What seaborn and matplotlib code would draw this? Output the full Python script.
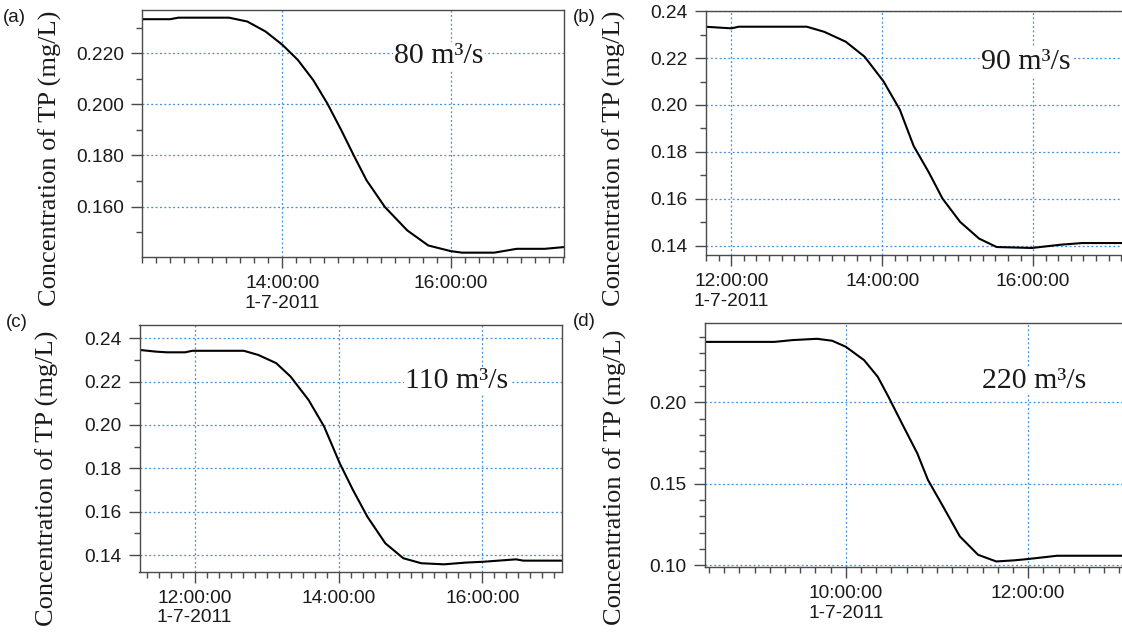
import numpy as np
import pandas as pd
import matplotlib
matplotlib.use("Agg")
import matplotlib.pyplot as plt
import matplotlib.dates as mdates
from matplotlib.ticker import MultipleLocator, FormatStrFormatter
import seaborn as sns

# data (time of day on 1-7-2011, TP in mg/L)
a_time = ["12:20", "12:40", "12:46", "13:22", "13:35", "13:48", "14:00", "14:11", "14:22", "14:32", "14:42",
          "14:51", "15:00", "15:13", "15:29", "15:44", "16:00", "16:08", "16:31", "16:47", "17:07", "17:21"]
a_tp = [0.2333, 0.2333, 0.2339, 0.2339, 0.2324, 0.2285, 0.2233, 0.2174, 0.2095, 0.2004, 0.1899,
        0.1799, 0.1703, 0.1599, 0.1507, 0.1448, 0.1426, 0.1420, 0.1420, 0.1435, 0.1435, 0.1442]

b_time = ["11:39", "12:00", "12:06", "13:00", "13:14", "13:31", "13:46", "14:01", "14:14", "14:25", "14:37",
          "14:48", "15:02", "15:17", "15:31", "15:59", "16:22", "16:39", "17:17"]
b_tp = [0.2334, 0.2327, 0.2334, 0.2334, 0.2312, 0.2270, 0.2206, 0.2101, 0.1980, 0.1825, 0.1713,
        0.1600, 0.1501, 0.1430, 0.1394, 0.1390, 0.1404, 0.1411, 0.1411]

c_time = ["11:14", "11:28", "11:37", "11:52", "11:58", "12:41", "12:53", "13:08", "13:20", "13:35", "13:48",
          "14:01", "14:12", "14:24", "14:39", "14:54", "15:09", "15:28", "15:46", "16:01", "16:28", "16:34", "17:06"]
c_tp = [0.2346, 0.2338, 0.2335, 0.2335, 0.2342, 0.2342, 0.2323, 0.2285, 0.2223, 0.2115, 0.1992,
        0.1823, 0.1700, 0.1577, 0.1454, 0.1385, 0.1362, 0.1357, 0.1365, 0.1369, 0.1380, 0.1374, 0.1374]

d_time = ["08:27", "09:13", "09:25", "09:41", "09:51", "10:00", "10:12", "10:21", "10:28", "10:38", "10:47",
          "10:54", "11:04", "11:15", "11:27", "11:39", "11:51", "12:00", "12:19", "13:07"]
d_tp = [0.2371, 0.2371, 0.2382, 0.2390, 0.2378, 0.2341, 0.2259, 0.2157, 0.2035, 0.1851, 0.1688,
        0.1525, 0.1361, 0.1178, 0.1065, 0.1024, 0.1031, 0.1039, 0.1059, 0.1059]

panel_tags = ["(a)", "(b)", "(c)", "(d)"]
flows = ["80 m\u00b3/s", "90 m\u00b3/s", "110 m\u00b3/s", "220 m\u00b3/s"]
a_xticks = ["14:00", "16:00"]
b_xticks = ["12:00", "14:00", "16:00"]
c_xticks = ["12:00", "14:00", "16:00"]
d_xticks = ["10:00", "12:00"]
date_label = "1-7-2011"
ylabel = "Concentration of TP (mg/L)"

sns.set_theme(style="ticks")
plt.rcParams['font.family'] = ['Liberation Sans', 'DejaVu Sans']

W, H = 1122, 633
fig = plt.figure(figsize=(W / 100, H / 100), dpi=100)
fig.patch.set_facecolor("white")


def px_axes(left, top, right, bottom):
    return fig.add_axes([left / W, 1 - bottom / H, (right - left) / W, (bottom - top) / H])


def t(s):
    return pd.Timestamp("2011-07-01 " + s)


# layout per panel: axes box in pixels, x/y limits, y tick step, y format, text spots
panels = [
    dict(times=a_time, tp=a_tp, ticks=a_xticks, box=(142, 10, 563.5, 257), xlim=("12:20", "17:20:20"),
         ylim=(0.1403, 0.2369), ystep=0.02, yfmt="%.3f", tag=(3, 9), txt=(394, 56), ylab=(50, 158)),
    dict(times=b_time, tp=b_tp, ticks=b_xticks, box=(705.5, 11, 1130, 255), xlim=("11:39:30", "17:17"),
         ylim=(0.136, 0.2401), ystep=0.02, yfmt="%.2f", tag=(573, 9), txt=(981, 62), ylab=(614, 158)),
    dict(times=c_time, tp=c_tp, ticks=c_xticks, box=(139.5, 325, 561.6, 571.7), xlim=("11:14", "17:06"),
         ylim=(0.1323, 0.2461), ystep=0.02, yfmt="%.2f", tag=(6, 314), txt=(405, 381), ylab=(47, 478)),
    dict(times=d_time, tp=d_tp, ticks=d_xticks, box=(704.5, 323.3, 1130, 567), xlim=("08:27", "13:07"),
         ylim=(0.099, 0.2485), ystep=0.05, yfmt="%.2f", tag=(573, 313), txt=(982, 381), ylab=(615, 477)),
]

grid_color = "#3f8fdc"
frame_color = "#4a4a4a"

for i, p in enumerate(panels):
    ax = px_axes(*p["box"])
    df = pd.DataFrame({"time": [t(s) for s in p["times"]], "tp": p["tp"]})
    sns.lineplot(data=df, x="time", y="tp", ax=ax, color="black", linewidth=1.5)

    ax.set_xlim(t(p["xlim"][0]), t(p["xlim"][1]))
    ax.set_ylim(*p["ylim"])

    tick_pos = [mdates.date2num(t(s)) for s in p["ticks"]]
    tick_lab = [s + ":00" for s in p["ticks"]]
    tick_lab[0] = tick_lab[0] + "\n" + date_label
    ax.set_xticks(tick_pos)
    ax.set_xticklabels(tick_lab)
    ax.xaxis.set_minor_locator(mdates.MinuteLocator(byminute=range(0, 60, 10)))

    ax.yaxis.set_major_locator(MultipleLocator(p["ystep"]))
    ax.yaxis.set_minor_locator(MultipleLocator(0.01))
    ax.yaxis.set_major_formatter(FormatStrFormatter(p["yfmt"]))

    ax.grid(True, which="major", color=grid_color, linestyle=(0, (1.5, 2)), linewidth=0.9)
    ax.tick_params(axis="both", which="major", direction="out", length=8, width=1,
                   color=frame_color, labelsize=13.8, labelcolor="#1a1a1a", pad=5)
    ax.tick_params(axis="both", which="minor", direction="out", length=4.5, width=1, color=frame_color)
    ax.tick_params(axis="x", which="both", top=False)
    ax.tick_params(axis="y", which="both", right=False)
    for sp in ax.spines.values():
        sp.set_color(frame_color)
        sp.set_linewidth(1)

    ax.set_xlabel("")
    ax.set_ylabel("")

    fig.text(p["ylab"][0] / W, 1 - p["ylab"][1] / H, ylabel, rotation=90, ha="center", va="center",
             fontsize=19, family=["Liberation Serif", "DejaVu Serif"], color="#1a1a1a")
    fig.text(p["tag"][0] / W, 1 - p["tag"][1] / H, panel_tags[i], ha="left", va="top",
             fontsize=13.5, color="#1a1a1a")
    fig.text(p["txt"][0] / W, 1 - p["txt"][1] / H, flows[i], ha="left", va="center",
             fontsize=21.5, family=["Liberation Serif", "DejaVu Serif"], color="#1a1a1a",
             bbox=dict(facecolor="white", edgecolor="none", pad=1))

fig.savefig("out.png", dpi=100, facecolor="white")
